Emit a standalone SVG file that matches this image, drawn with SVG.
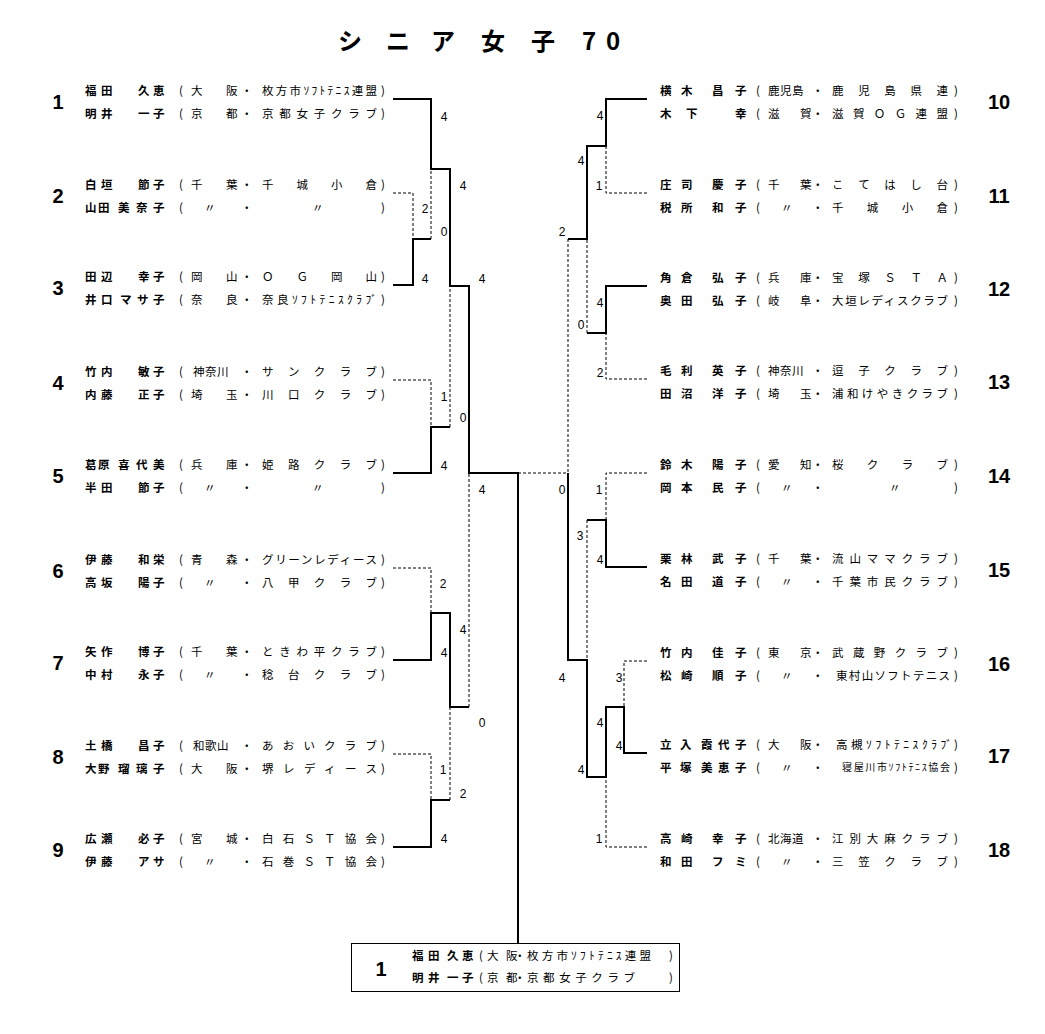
<svg xmlns="http://www.w3.org/2000/svg" width="1045" height="1034" viewBox="0 0 1045 1034">
<style>
.n{font-family:"Noto Sans CJK JP",sans-serif;font-size:11.5px;font-weight:700;fill:#000}
.c{font-family:"Noto Sans CJK JP",sans-serif;font-size:11.5px;fill:#000}
.num{font-family:"Liberation Sans",Arial,sans-serif;font-size:20px;font-weight:700;text-anchor:middle;fill:#000}
.s{font-family:"Liberation Sans",Arial,sans-serif;font-size:12px;text-anchor:middle;fill:#000}
.t{font-family:"Noto Sans CJK JP",sans-serif;font-size:24px;font-weight:700;fill:#000}
.w{fill:none;stroke:#000;stroke-width:2}
.l{fill:none;stroke:#000;stroke-width:1;stroke-dasharray:3 2}
</style>
<rect width="1045" height="1034" fill="#fff"/>
<g id="title"><text class="t" x="338 386 431 481 531 582 606" y="50">シニア女子70</text></g>

<g id="connectors">
<path class="w" d="M393,99H431V169H450V286H469V473H518V943"/>
<path class="w" d="M393,285H413V239H431"/>
<path class="w" d="M393,473H431V427H450"/>
<path class="w" d="M393,660H431V613H450V707H469"/>
<path class="w" d="M393,847H431V800H450"/>
<path class="w" d="M647,99H606V146H587V239H568"/>
<path class="w" d="M647,286H606V333H587"/>
<path class="w" d="M647,567H606V520H587"/>
<path class="w" d="M647,753H624V707H606V777H587V660H568V473"/>
<path class="l" d="M393,193H413V239"/>
<path class="l" d="M431,239V169"/>
<path class="l" d="M393,380H431V427"/>
<path class="l" d="M450,427V286"/>
<path class="l" d="M393,568H431V613"/>
<path class="l" d="M469,707V473"/>
<path class="l" d="M393,754H431V800"/>
<path class="l" d="M450,800V707"/>
<path class="l" d="M518,473H568"/>
<path class="l" d="M568,239V473"/>
<path class="l" d="M647,193H606V146"/>
<path class="l" d="M587,333V239"/>
<path class="l" d="M647,379H606V333"/>
<path class="l" d="M647,473H606V520"/>
<path class="l" d="M587,520V660"/>
<path class="l" d="M647,661H624V707"/>
<path class="l" d="M647,847H606V777"/>
</g>

<g id="scores">
<text class="s" x="444" y="121">4</text>
<text class="s" x="425" y="213">2</text>
<text class="s" x="425" y="283">4</text>
<text class="s" x="444" y="236">0</text>
<text class="s" x="463" y="190">4</text>
<text class="s" x="463" y="422">0</text>
<text class="s" x="482" y="283">4</text>
<text class="s" x="444" y="401">1</text>
<text class="s" x="444" y="470">4</text>
<text class="s" x="482" y="494">4</text>
<text class="s" x="443" y="588">2</text>
<text class="s" x="444" y="657">4</text>
<text class="s" x="463" y="634">4</text>
<text class="s" x="443" y="774">1</text>
<text class="s" x="444" y="843">4</text>
<text class="s" x="463" y="798">2</text>
<text class="s" x="482" y="727">0</text>
<text class="s" x="600" y="120">4</text>
<text class="s" x="599" y="190">1</text>
<text class="s" x="581" y="165">4</text>
<text class="s" x="581" y="329">0</text>
<text class="s" x="600" y="307">4</text>
<text class="s" x="600" y="377">2</text>
<text class="s" x="562" y="236">2</text>
<text class="s" x="562" y="494">0</text>
<text class="s" x="562" y="682">4</text>
<text class="s" x="599" y="494">1</text>
<text class="s" x="600" y="564">4</text>
<text class="s" x="580" y="540">3</text>
<text class="s" x="581" y="774">4</text>
<text class="s" x="619" y="682">3</text>
<text class="s" x="619" y="750">4</text>
<text class="s" x="600" y="727">4</text>
<text class="s" x="599" y="843">1</text>
</g>

<g id="p1">
<text class="num" x="58" y="109">1</text>
<text class="n" x="85 101 120 138 153" y="95">福田　久恵</text>
<text class="c" x="179 191 226 241" y="95">(大阪・</text>
<text class="c" x="262" y="95" textLength="115" lengthAdjust="spacing">枚方市ｿﾌﾄﾃﾆｽ連盟</text>
<text class="c" x="381" y="95">)</text>
<text class="n" x="85 101 120 138 153" y="118">明井　一子</text>
<text class="c" x="179 191 226 241" y="118">(京都・</text>
<text class="c" x="262" y="118" textLength="115" lengthAdjust="spacing">京都女子クラブ</text>
<text class="c" x="381" y="118">)</text>
</g>
<g id="p2">
<text class="num" x="58" y="203">2</text>
<text class="n" x="85 101 120 138 153" y="189">白垣　節子</text>
<text class="c" x="179 191 226 241" y="189">(千葉・</text>
<text class="c" x="262" y="189" textLength="115" lengthAdjust="spacing">千城小倉</text>
<text class="c" x="381" y="189">)</text>
<text class="n" x="85 98 110 118 136 153" y="212">山田　美奈子</text>
<text class="c" x="179 204 241" y="212">(〃・</text>
<text class="c" x="312" y="212">〃</text>
<text class="c" x="381" y="212">)</text>
</g>
<g id="p3">
<text class="num" x="58" y="295">3</text>
<text class="n" x="85 101 120 138 153" y="281">田辺　幸子</text>
<text class="c" x="179 191 226 241" y="281">(岡山・</text>
<text class="c" x="262" y="281" textLength="115" lengthAdjust="spacing">ＯＧ岡山</text>
<text class="c" x="381" y="281">)</text>
<text class="n" x="85 101 112 120 137 153" y="304">井口　マサ子</text>
<text class="c" x="179 191 226 241" y="304">(奈良・</text>
<text class="c" x="262" y="304" textLength="115" lengthAdjust="spacing">奈良ｿﾌﾄﾃﾆｽｸﾗﾌﾞ</text>
<text class="c" x="381" y="304">)</text>
</g>
<g id="p4">
<text class="num" x="58" y="390">4</text>
<text class="n" x="85 101 120 138 153" y="376">竹内　敏子</text>
<text class="c" x="179 193 205 217 241" y="376">(神奈川・</text>
<text class="c" x="262" y="376" textLength="115" lengthAdjust="spacing">サンクラブ</text>
<text class="c" x="381" y="376">)</text>
<text class="n" x="85 101 120 138 153" y="399">内藤　正子</text>
<text class="c" x="179 191 226 241" y="399">(埼玉・</text>
<text class="c" x="262" y="399" textLength="115" lengthAdjust="spacing">川口クラブ</text>
<text class="c" x="381" y="399">)</text>
</g>
<g id="p5">
<text class="num" x="58" y="483">5</text>
<text class="n" x="85 98 110 118 136 153" y="469">葛原　喜代美</text>
<text class="c" x="179 191 226 241" y="469">(兵庫・</text>
<text class="c" x="262" y="469" textLength="115" lengthAdjust="spacing">姫路クラブ</text>
<text class="c" x="381" y="469">)</text>
<text class="n" x="85 101 120 138 153" y="492">半田　節子</text>
<text class="c" x="179 204 241" y="492">(〃・</text>
<text class="c" x="312" y="492">〃</text>
<text class="c" x="381" y="492">)</text>
</g>
<g id="p6">
<text class="num" x="58" y="578">6</text>
<text class="n" x="85 101 120 138 153" y="564">伊藤　和栄</text>
<text class="c" x="179 191 226 241" y="564">(青森・</text>
<text class="c" x="262" y="564" textLength="115" lengthAdjust="spacing">グリーンレディース</text>
<text class="c" x="381" y="564">)</text>
<text class="n" x="85 101 120 138 153" y="587">高坂　陽子</text>
<text class="c" x="179 204 241" y="587">(〃・</text>
<text class="c" x="262" y="587" textLength="115" lengthAdjust="spacing">八甲クラブ</text>
<text class="c" x="381" y="587">)</text>
</g>
<g id="p7">
<text class="num" x="58" y="670">7</text>
<text class="n" x="85 101 120 138 153" y="656">矢作　博子</text>
<text class="c" x="179 191 226 241" y="656">(千葉・</text>
<text class="c" x="262" y="656" textLength="115" lengthAdjust="spacing">ときわ平クラブ</text>
<text class="c" x="381" y="656">)</text>
<text class="n" x="85 101 120 138 153" y="679">中村　永子</text>
<text class="c" x="179 204 241" y="679">(〃・</text>
<text class="c" x="262" y="679" textLength="115" lengthAdjust="spacing">稔台クラブ</text>
<text class="c" x="381" y="679">)</text>
</g>
<g id="p8">
<text class="num" x="58" y="764">8</text>
<text class="n" x="85 101 120 138 153" y="750">土橋　昌子</text>
<text class="c" x="179 193 205 217 241" y="750">(和歌山・</text>
<text class="c" x="262" y="750" textLength="115" lengthAdjust="spacing">あおいクラブ</text>
<text class="c" x="381" y="750">)</text>
<text class="n" x="85 98 110 118 136 153" y="773">大野　瑠璃子</text>
<text class="c" x="179 191 226 241" y="773">(大阪・</text>
<text class="c" x="262" y="773" textLength="115" lengthAdjust="spacing">堺レディース</text>
<text class="c" x="381" y="773">)</text>
</g>
<g id="p9">
<text class="num" x="58" y="857">9</text>
<text class="n" x="85 101 120 138 153" y="843">広瀬　必子</text>
<text class="c" x="179 191 226 241" y="843">(宮城・</text>
<text class="c" x="262" y="843" textLength="115" lengthAdjust="spacing">白石ＳＴ協会</text>
<text class="c" x="381" y="843">)</text>
<text class="n" x="85 101 120 138 153" y="866">伊藤　アサ</text>
<text class="c" x="179 204 241" y="866">(〃・</text>
<text class="c" x="262" y="866" textLength="115" lengthAdjust="spacing">石巻ＳＴ協会</text>
<text class="c" x="381" y="866">)</text>
</g>

<g id="p10">
<text class="num" x="999" y="109">10</text>
<text class="n" x="660 681 697 712 735" y="95">横木　昌子</text>
<text class="c" x="756 768 780 792 812" y="95">(鹿児島・</text>
<text class="c" x="832" y="95" textLength="116" lengthAdjust="spacing">鹿児島県連</text>
<text class="c" x="954" y="95">)</text>
<text class="n" x="660 686 710 735" y="118">木下　幸</text>
<text class="c" x="756 768 800 812" y="118">(滋賀・</text>
<text class="c" x="832" y="118" textLength="116" lengthAdjust="spacing">滋賀ＯＧ連盟</text>
<text class="c" x="954" y="118">)</text>
</g>
<g id="p11">
<text class="num" x="999" y="203">11</text>
<text class="n" x="660 681 697 712 735" y="189">庄司　慶子</text>
<text class="c" x="756 768 800 812" y="189">(千葉・</text>
<text class="c" x="832" y="189" textLength="116" lengthAdjust="spacing">こてはし台</text>
<text class="c" x="954" y="189">)</text>
<text class="n" x="660 681 697 712 735" y="212">税所　和子</text>
<text class="c" x="756 781 812" y="212">(〃・</text>
<text class="c" x="832" y="212" textLength="116" lengthAdjust="spacing">千城小倉</text>
<text class="c" x="954" y="212">)</text>
</g>
<g id="p12">
<text class="num" x="999" y="296">12</text>
<text class="n" x="660 681 697 712 735" y="282">角倉　弘子</text>
<text class="c" x="756 768 800 812" y="282">(兵庫・</text>
<text class="c" x="832" y="282" textLength="116" lengthAdjust="spacing">宝塚ＳＴＡ</text>
<text class="c" x="954" y="282">)</text>
<text class="n" x="660 681 697 712 735" y="305">奥田　弘子</text>
<text class="c" x="756 768 800 812" y="305">(岐阜・</text>
<text class="c" x="832" y="305" textLength="116" lengthAdjust="spacing">大垣レディスクラブ</text>
<text class="c" x="954" y="305">)</text>
</g>
<g id="p13">
<text class="num" x="999" y="389">13</text>
<text class="n" x="660 681 697 712 735" y="375">毛利　英子</text>
<text class="c" x="756 768 780 792 812" y="375">(神奈川・</text>
<text class="c" x="832" y="375" textLength="116" lengthAdjust="spacing">逗子クラブ</text>
<text class="c" x="954" y="375">)</text>
<text class="n" x="660 681 697 712 735" y="398">田沼　洋子</text>
<text class="c" x="756 768 800 812" y="398">(埼玉・</text>
<text class="c" x="832" y="398" textLength="116" lengthAdjust="spacing">浦和けやきクラブ</text>
<text class="c" x="954" y="398">)</text>
</g>
<g id="p14">
<text class="num" x="999" y="483">14</text>
<text class="n" x="660 681 697 712 735" y="469">鈴木　陽子</text>
<text class="c" x="756 768 800 812" y="469">(愛知・</text>
<text class="c" x="832" y="469" textLength="116" lengthAdjust="spacing">桜クラブ</text>
<text class="c" x="954" y="469">)</text>
<text class="n" x="660 681 697 712 735" y="492">岡本　民子</text>
<text class="c" x="756 781 812" y="492">(〃・</text>
<text class="c" x="889" y="492">〃</text>
<text class="c" x="954" y="492">)</text>
</g>
<g id="p15">
<text class="num" x="999" y="577">15</text>
<text class="n" x="660 681 697 712 735" y="563">栗林　武子</text>
<text class="c" x="756 768 800 812" y="563">(千葉・</text>
<text class="c" x="832" y="563" textLength="116" lengthAdjust="spacing">流山ママクラブ</text>
<text class="c" x="954" y="563">)</text>
<text class="n" x="660 681 697 712 735" y="586">名田　道子</text>
<text class="c" x="756 781 812" y="586">(〃・</text>
<text class="c" x="832" y="586" textLength="116" lengthAdjust="spacing">千葉市民クラブ</text>
<text class="c" x="954" y="586">)</text>
</g>
<g id="p16">
<text class="num" x="999" y="671">16</text>
<text class="n" x="660 681 697 712 735" y="657">竹内　佳子</text>
<text class="c" x="756 768 800 812" y="657">(東京・</text>
<text class="c" x="832" y="657" textLength="116" lengthAdjust="spacing">武蔵野クラブ</text>
<text class="c" x="954" y="657">)</text>
<text class="n" x="660 681 697 712 735" y="680">松崎　順子</text>
<text class="c" x="756 781 812" y="680">(〃・</text>
<text class="c" x="836" y="680" textLength="114" lengthAdjust="spacing">東村山ソフトテニス</text>
<text class="c" x="954" y="680">)</text>
</g>
<g id="p17">
<text class="num" x="999" y="763">17</text>
<text class="n" x="660 680 691 701 718 735" y="749">立入　霞代子</text>
<text class="c" x="756 768 800 812" y="749">(大阪・</text>
<text class="c" x="836" y="749" textLength="116" lengthAdjust="spacing">高槻ｿﾌﾄﾃﾆｽｸﾗﾌﾞ</text>
<text class="c" x="954" y="749">)</text>
<text class="n" x="660 680 691 701 718 735" y="772">平塚　美恵子</text>
<text class="c" x="756 781 812" y="772">(〃・</text>
<text class="c" x="842" y="771" textLength="108" lengthAdjust="spacing" style="font-size:10px">寝屋川市ｿﾌﾄﾃﾆｽ協会</text>
<text class="c" x="954" y="772">)</text>
</g>
<g id="p18">
<text class="num" x="999" y="857">18</text>
<text class="n" x="660 681 697 712 735" y="843">高崎　幸子</text>
<text class="c" x="756 768 780 792 812" y="843">(北海道・</text>
<text class="c" x="832" y="843" textLength="116" lengthAdjust="spacing">江別大麻クラブ</text>
<text class="c" x="954" y="843">)</text>
<text class="n" x="660 681 697 712 735" y="866">和田　フミ</text>
<text class="c" x="756 781 812" y="866">(〃・</text>
<text class="c" x="832" y="866" textLength="116" lengthAdjust="spacing">三笠クラブ</text>
<text class="c" x="954" y="866">)</text>
</g>

<g id="champion">
<rect x="351.5" y="943.5" width="328" height="48" fill="#fff" stroke="#000" stroke-width="1"/>
<text class="num" x="381" y="976">1</text>
<text class="n" x="412 428 438 447 462" y="960">福田　久恵</text>
<text class="c" x="479 487 506 514" y="960">(大阪・</text>
<text class="c" x="527" y="960" textLength="124" lengthAdjust="spacing">枚方市ｿﾌﾄﾃﾆｽ連盟</text>
<text class="c" x="669" y="960">)</text>
<text class="n" x="412 428 438 447 462" y="982">明井　一子</text>
<text class="c" x="479 487 506 514" y="982">(京都・</text>
<text class="c" x="527" y="982" textLength="108" lengthAdjust="spacing">京都女子クラブ</text>
<text class="c" x="669" y="982">)</text>
</g>
</svg>
